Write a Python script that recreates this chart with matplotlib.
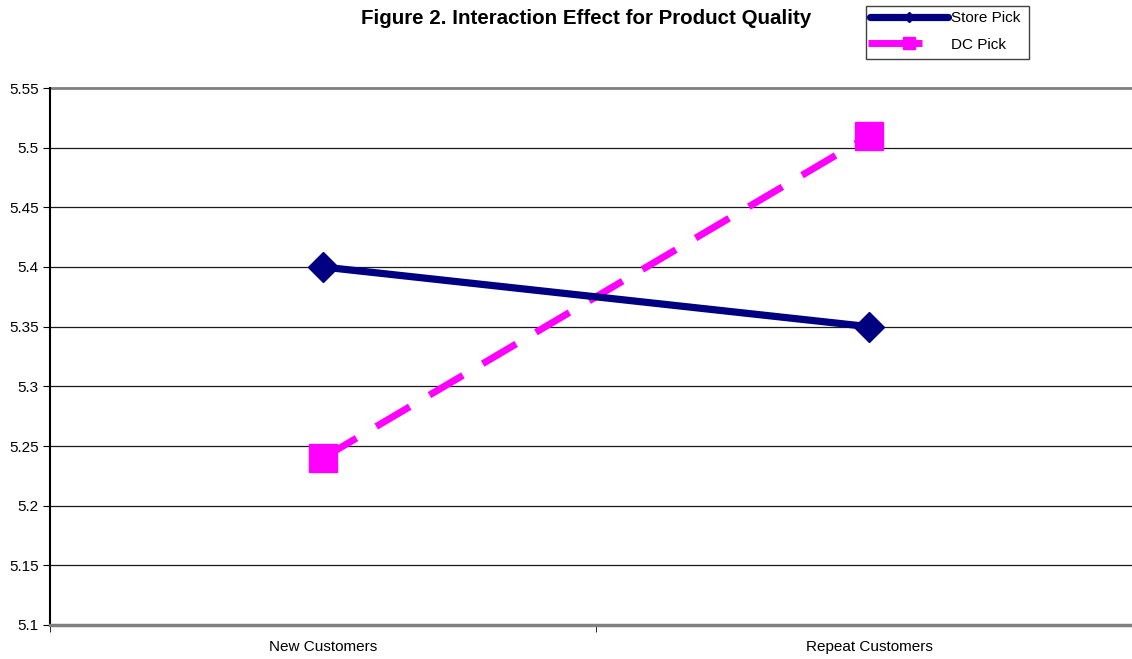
import matplotlib
matplotlib.use("Agg")
import matplotlib.pyplot as plt
from matplotlib.lines import Line2D
from matplotlib.patches import Rectangle
import numpy as np

categories = ["New Customers", "Repeat Customers"]
store_pick = [5.40, 5.35]
dc_pick = [5.24, 5.51]
yticks = [5.1, 5.15, 5.2, 5.25, 5.3, 5.35, 5.4, 5.45, 5.5, 5.55]

NAVY = "#000080"
PINK = "#FF00FF"

plt.rcParams["font.family"] = ["Liberation Sans", "DejaVu Sans"]

fig = plt.figure(figsize=(11.32, 6.59), dpi=100)
ax = fig.add_axes([50 / 1132, 34 / 659, 1092 / 1132, 537 / 659])

x = np.arange(len(categories))
ax.plot(x, store_pick, color=NAVY, lw=5.2, marker="D", ms=15,
        markerfacecolor=NAVY, markeredgecolor=NAVY, solid_capstyle="butt", zorder=4)
ax.plot(x, dc_pick, color=PINK, lw=5.0, marker="s", ms=20,
        markerfacecolor=PINK, markeredgecolor=PINK, dashes=(5.6, 3.3),
        dash_capstyle="butt", zorder=3)

ax.set_xlim(-0.5, 1.5)
ax.set_ylim(5.1, 5.55)
ax.set_yticks(yticks)
ax.set_yticklabels([f"{v:g}" for v in yticks], fontsize=11)
ax.set_xticks(x)
ax.set_xticklabels(categories, fontsize=11)
ax.tick_params(axis="x", length=0, pad=11)
ax.set_xticks([-0.5, 0.5, 1.5], minor=True)
ax.tick_params(axis="x", which="minor", length=5, direction="out", color="black")
ax.tick_params(axis="y", length=5, direction="out", color="black", pad=3)

for v in yticks[1:-1]:
    ax.axhline(v, color="#1a1a1a", lw=0.9, zorder=1)
ax.axhline(5.55, color="#808080", lw=2.0, zorder=1, clip_on=False)

for side in ["top", "right"]:
    ax.spines[side].set_visible(False)
ax.spines["left"].set_linewidth(1.5)
ax.spines["left"].set_color("black")
ax.spines["bottom"].set_linewidth(2.5)
ax.spines["bottom"].set_color("#808080")

fig.text(586 / 1132, 1 - 18 / 659, "Figure 2. Interaction Effect for Product Quality",
         ha="center", va="center", fontsize=14.8, fontweight="bold")

# legend box
W, H = 1132, 659
def fx(px): return px / W
def fy(py): return 1 - py / H

fig.patches.append(Rectangle((fx(866), fy(59)), fx(1029) - fx(866), fy(6) - fy(59),
                             transform=fig.transFigure, facecolor="white",
                             edgecolor="#404040", lw=1.0))
fig.lines.append(Line2D([fx(870), fx(948)], [fy(17), fy(17)], transform=fig.transFigure,
                        color=NAVY, lw=5.2, solid_capstyle="round"))
fig.lines.append(Line2D([fx(909)], [fy(17)], transform=fig.transFigure, color=NAVY,
                        marker="D", ms=5, lw=0))
fig.text(fx(951), fy(18), "Store Pick", ha="left", va="center", fontsize=11)
fig.lines.append(Line2D([fx(868), fx(922)], [fy(43), fy(43)], transform=fig.transFigure,
                        color=PINK, lw=5.0, solid_capstyle="butt"))
fig.lines.append(Line2D([fx(909)], [fy(43)], transform=fig.transFigure, color=PINK,
                        marker="s", ms=8, lw=0))
fig.text(fx(951), fy(45), "DC Pick", ha="left", va="center", fontsize=11)

fig.savefig("out.png", dpi=100)
